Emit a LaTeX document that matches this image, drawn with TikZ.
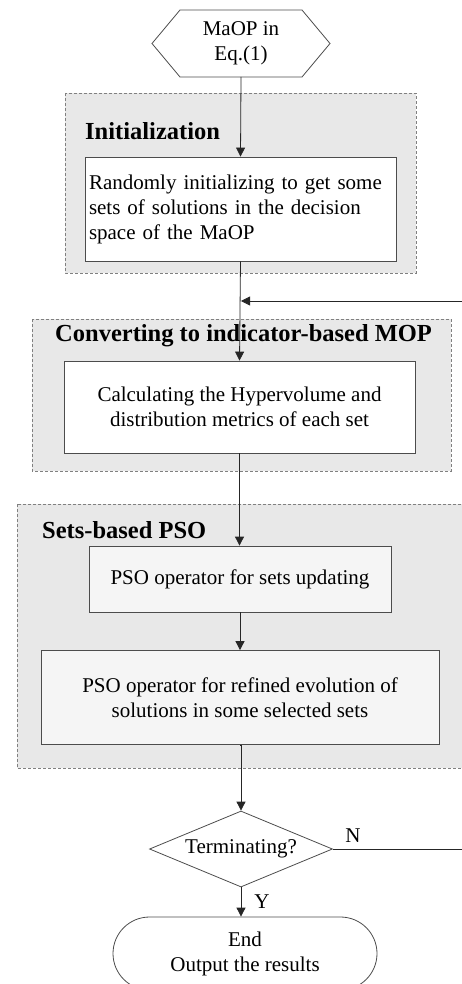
\documentclass[tikz,border=0pt]{standalone}
\usepackage{fontspec}
\setmainfont{Liberation Serif}
\usetikzlibrary{shapes.geometric,shapes.misc,arrows.meta}
\begin{document}
\begin{tikzpicture}[x=1pt,y=-1pt,
  every node/.style={font=\fontsize{21}{25}\selectfont},
  grp/.style={draw=black!50, fill=black!9, line width=0.8pt, dash pattern=on 3pt off 2pt},
  wbox/.style={draw=black!70, fill=white, line width=0.8pt, inner sep=0pt, align=center},
  gbox/.style={wbox, fill=black!4},
  lbl/.style={font=\fontsize{24.5}{28}\selectfont\bfseries, anchor=west, inner sep=0pt},
  arr/.style={draw=black!85, line width=0.8pt, -{Triangle[length=9pt,width=9pt]}},
  ln/.style={draw=black!70, line width=0.8pt}]
\useasboundingbox (0,0) rectangle (462,984);
\begin{scope}
\clip (0,0) rectangle (462,984);
% group boxes
\draw[grp] (65,93) rectangle (416,273);
\draw[grp] (32,319) rectangle (451,471);
\draw[grp] (17,504) rectangle (470,768);
% group labels
\node[lbl] (linit) at (85,131) {Initialization};
\node[lbl] (lconv) at (55,336) {Converting to indicator-based MOP};
\node[lbl] (lsets) at (42,530) {Sets-based PSO};
% start hexagon
\node[inner sep=0pt, align=center] (hex) at (241,43.5) {MaOP in\\Eq.(1)};
\draw[ln] (152,43.5) -- (180,10) -- (302,10) -- (330,43.5) -- (302,77) -- (180,77) -- cycle;
\coordinate (hexb) at (241,77);
% process boxes
\node[wbox, minimum width=311pt, minimum height=104pt, text width=303pt, align=left] (init) at (240.5,209)
  {Randomly initializing to get some\\sets of solutions in the decision\\space of the MaOP};
\node[wbox, minimum width=351pt, minimum height=92pt] (conv) at (239.5,407)
  {Calculating the Hypervolume and\\distribution metrics of each set};
\node[gbox, minimum width=302pt, minimum height=66pt] (b1) at (240,579)
  {PSO operator for sets updating};
\node[gbox, minimum width=398pt, minimum height=94pt] (b2) at (240,697.5)
  {PSO operator for refined evolution of\\solutions in some selected sets};
% decision and end
\node[draw=black!70, line width=0.8pt, diamond, aspect=2.4, inner sep=0pt, minimum width=183pt, minimum height=76pt] (dia) at (241,849) {Terminating?};
\node[draw=black!70, line width=0.8pt, rounded rectangle, minimum width=264pt, minimum height=73pt, align=center, inner sep=0pt] (term) at (245,953.5) {End\\Output the results};
% connectors
\draw[arr] (hexb) -- (init.north);
\draw[arr] (init.south) -- (conv.north);
\draw[arr] (conv.south) -- (conv.south |- b1.north);
\draw[arr] (b1.south) -- (b1.south |- b2.north);
\draw[arr] (b2.south) -- (b2.south -| dia.north) -- (dia.north);
\draw[arr] (dia.south) -- (dia.south |- term.north);
\coordinate (fb) at (241,301);
\draw[arr] (dia.east) -- ++(140,0) |- (fb);
\node[inner sep=0pt] (nlab) at (353,836) {N};
\node[inner sep=0pt] (ylab) at (262,902) {Y};
\end{scope}
\end{tikzpicture}
\end{document}
